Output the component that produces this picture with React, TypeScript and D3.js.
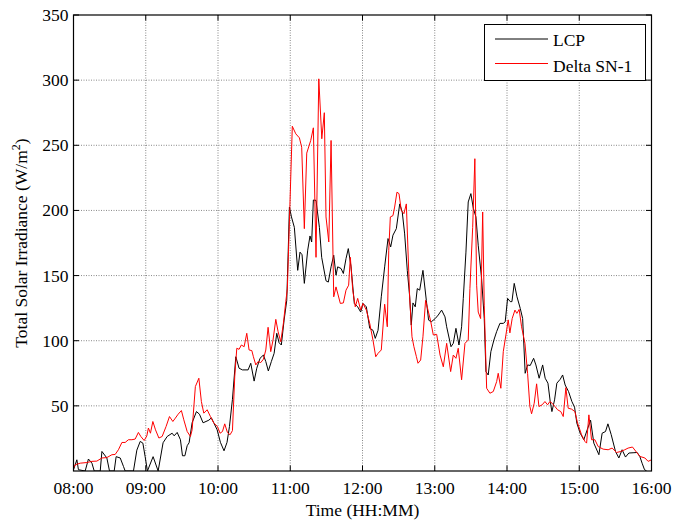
import React from "react";
import * as d3 from "d3";

// minutes after 08:00
const lcpTime = [0, 2.8, 4.1, 9.7, 12.4, 15.3, 17.2, 22.2, 23.6, 27.7, 29.9, 33.8, 35.4, 38.8, 41.5, 42.9, 49.8, 52.6, 55.4, 57.6, 59.5, 61.4, 66.1, 70.3, 74.4, 77.8, 81.9, 83.6, 86.1, 88.8, 90.5, 92.5, 94.4, 96, 98.5, 102.1, 104.6, 107.6, 112.4, 114.5, 119.3, 122, 125, 127.5, 129.5, 132, 134.8, 137.5, 140.3, 145, 147.2, 150, 152.2, 154.9, 157.7, 159.7, 161.8, 164.3, 166.6, 168.8, 170.7, 172.6, 174.9, 177.1, 178.2, 179.3, 181, 183.4, 186.2, 188.1, 189.8, 191.7, 194.5, 196.4, 197.8, 199.2, 201.4, 204.2, 206.1, 209.7, 211.6, 213.9, 216.1, 218, 219.4, 222.2, 224.1, 226.3, 228.2, 230.5, 233.2, 236, 238.5, 240.4, 243.2, 246, 248.7, 250.6, 252.9, 255.6, 258.4, 261.2, 263.4, 265.3, 268.1, 270.9, 273, 275, 277.2, 279.2, 280.5, 281.9, 283.8, 285.5, 287.5, 290.2, 293, 294.9, 297.1, 300.4, 302.9, 305.7, 308.5, 309.9, 313.5, 315.4, 317.6, 320.1, 322.3, 323.7, 325.9, 327.8, 330, 332, 334.2, 336.1, 338.9, 341.1, 342.5, 344.4, 346.6, 349.1, 351.4, 354.1, 356.9, 358.5, 360.5, 362.7, 364.1, 366, 368.3, 371, 373, 375.1, 377.1, 379.3, 382.1, 384, 386.7, 389.6, 391.7, 394, 395.9, 397.3, 399.5, 401.4, 404.2, 406.2, 408.3, 411.1, 413.9, 416.1, 418, 420.8, 423.8, 426.6, 429.4, 432.1, 436.3, 439, 441.8, 443.8, 446.5, 450.1, 452.9, 455.6, 458.4, 461.2, 464.7, 468.1, 470.3, 472.2, 474.2, 476];
const lcpValue = [1, 8.6, 1, 0, 9.2, 6, 0, 0, 15, 10, 0, 0, 11, 10, 3.5, 0, 0, 16, 22.7, 21.4, 11, 0, 11, 0, 21.7, 26.5, 29, 27, 29.6, 24, 11.7, 11.7, 19.4, 21.7, 37, 45.6, 43.6, 37, 39, 40.8, 31.6, 22, 15.5, 22, 34, 55, 87.7, 78.9, 77.6, 77.6, 82.7, 69, 78.9, 86.5, 89, 84, 76.8, 84, 90.3, 105.7, 98.5, 96.7, 115.8, 131, 165, 202.6, 195, 187, 154, 168, 166, 144, 169.5, 180.4, 175.8, 208, 207.7, 187, 164, 146, 145, 156.7, 165.6, 150.3, 156.7, 155.4, 151.6, 163, 170.7, 156.7, 128.6, 126, 122, 128.6, 126, 109.5, 108, 101.8, 108, 133.7, 156.7, 178.4, 172, 181, 186, 205, 198.8, 182, 154, 133.7, 112, 129, 126, 140, 138.8, 154, 131, 115.8, 114.5, 117, 119.7, 123.5, 118.3, 110.7, 95.4, 98, 109.5, 96.7, 110.7, 132.5, 168, 206.5, 212.9, 201.7, 195, 173.3, 147.8, 117, 76.3, 73.7, 91.6, 100.5, 107, 113.3, 113.3, 114.5, 132.5, 130, 130, 144, 133.7, 124.8, 117, 75, 81.4, 81, 86.5, 81.4, 71.2, 81.4, 71.2, 67.4, 53.3, 45.6, 54.6, 67.4, 70.4, 73.7, 66, 61, 53.3, 49, 36.8, 29, 24, 31.6, 39, 21.4, 12.5, 29, 30.3, 36.2, 28, 15, 10, 16.3, 10.7, 13.8, 14, 14.2, 11.2, 6, 1, 0];

const snTime = [0, 1.4, 5.6, 11.1, 15.3, 19.4, 23.6, 27.7, 31.9, 34.6, 37.3, 40.2, 42.9, 45.6, 48.5, 51.2, 53.9, 55.9, 58.7, 60.9, 62.2, 63.9, 65.9, 68.1, 70.9, 73.6, 76.9, 79.7, 82.5, 84.6, 86.9, 89.6, 91.6, 94.4, 97.1, 98.5, 101.2, 104.1, 106.2, 108.2, 111, 113.7, 116.5, 119.5, 121.7, 123.7, 125.6, 127.8, 130, 132, 133.9, 135.6, 137.5, 139.4, 141.7, 143.9, 145.8, 148.1, 149.4, 151.4, 153.3, 155.5, 157.7, 159.7, 161.6, 163.8, 165.7, 168, 169.9, 172.1, 174.3, 176.3, 177.6, 178.4, 181.7, 184.6, 187.6, 189.5, 191.7, 193.7, 197, 199.2, 201.4, 203.7, 206.2, 208.3, 209.7, 212, 213.9, 216.1, 218, 221.6, 224.1, 226.3, 228.5, 229.9, 231.9, 234, 236, 238.5, 240.4, 243.2, 246, 248.7, 251, 252.9, 255.6, 258.4, 260.6, 261.8, 263.1, 265.3, 266.7, 268.6, 270.3, 272.2, 274.4, 276.4, 279.2, 281.1, 282.7, 284.7, 286.1, 288.3, 290.2, 292.4, 294.4, 296.6, 298.8, 301.6, 304.4, 307.1, 309.9, 313.2, 315.4, 317.6, 319.5, 322.3, 325.1, 327.8, 329.2, 331.5, 333.3, 334.8, 336.1, 338.1, 339.8, 341.1, 343.1, 345.8, 348.6, 351.4, 352.7, 354.9, 356.9, 359.1, 361, 362.4, 364.3, 366.6, 368.2, 370.1, 372.1, 374.9, 377.1, 379, 380.4, 382.6, 384.6, 386.5, 389.2, 391.5, 393.7, 395.6, 397.5, 399.8, 402, 404.7, 406.7, 408.9, 410.8, 413.6, 416.4, 418.6, 421.9, 424.7, 426.1, 428, 430.2, 433, 435.7, 439.8, 444, 447.3, 451, 454.5, 457.8, 460.6, 464.2, 467.5, 470.3, 474.5, 477.2, 480];
const snValue = [2.3, 4.8, 6, 6.5, 7.4, 7.6, 10, 10.3, 12.5, 12.7, 16.3, 21.9, 21.9, 24, 24, 24.5, 29.6, 26.5, 23.4, 27, 33, 29, 38, 31.6, 25.3, 26.5, 34.2, 41.8, 38, 40.6, 43.6, 46.4, 39.3, 30.3, 26.5, 31.6, 64.8, 71.2, 53.3, 44.4, 47, 41.8, 36.8, 34.2, 29, 30.3, 36.2, 29.6, 27.8, 31, 72.4, 94.2, 93.4, 96.7, 95.4, 105.7, 92.9, 92.4, 87.7, 81.4, 84, 83.2, 85.8, 92.9, 110.3, 91.6, 100.5, 116.4, 107, 99.2, 113.3, 130, 140, 164, 264.6, 258.8, 255.7, 248.5, 186, 244, 253.7, 263.4, 164, 301, 255, 275, 195, 175.8, 253.7, 133.7, 141.3, 128.6, 129, 138.8, 142.6, 164, 138.8, 126, 132.5, 123.5, 128.6, 123.5, 113.3, 100.5, 87.7, 90.3, 92.9, 128, 110.7, 169.4, 195, 196, 202.6, 214, 212.9, 200, 197.5, 205, 132.5, 103, 95.4, 88, 82.7, 85.2, 103, 131, 123.5, 115, 104.4, 104.9, 89, 80, 98, 76.3, 89, 86.5, 94.2, 70, 98, 100.5, 140, 187, 239.7, 142.6, 122, 117, 198.8, 127.3, 63.5, 59.7, 61, 68.6, 75, 63.5, 91.6, 104.4, 116, 106, 117, 123.5, 121, 124, 110.7, 98, 75, 49.5, 43.9, 52, 66.9, 49.5, 50.8, 53.3, 50.8, 53.3, 52, 49.5, 47, 45.6, 41.8, 64, 48.2, 47.5, 45.6, 36.8, 27.8, 22.7, 21.4, 43.1, 24, 24, 18.8, 16.8, 16.3, 17.6, 14.2, 15, 16.3, 17.6, 18.4, 14.5, 11.2, 10, 7.4, 8.6];

const xTickMinutes = [0, 60, 120, 180, 240, 300, 360, 420, 480];
const xTickLabels = ["08:00", "09:00", "10:00", "11:00", "12:00", "13:00", "14:00", "15:00", "16:00"];
const yTicks = [50, 100, 150, 200, 250, 300, 350];
const seriesNames = ["LCP", "Delta SN-1"];
const seriesColors = ["#000000", "#ff0000"];

const W = 675, H = 523;
const L = 73.5, R = 651.5, T = 15, B = 471;
const FONT = "'Liberation Serif', 'Times New Roman', serif";

export default function App() {
  const x = d3.scaleLinear().domain([0, 480]).range([L, R]);
  const y = d3.scaleLinear().domain([0, 350]).range([B, T]);
  const line = d3.line<[number, number]>().x(d => x(d[0])).y(d => y(d[1]));
  const lcp = lcpTime.map((t, i) => [t, lcpValue[i]] as [number, number]);
  const sn = snTime.map((t, i) => [t, snValue[i]] as [number, number]);
  const tl = 5.5;
  return (
    <svg width={W} height={H} style={{ position: "absolute", left: 0, top: 0, background: "#fff" }} fontFamily={FONT}>
      <defs>
        <clipPath id="plot"><rect x={L} y={T} width={R - L} height={B - T} /></clipPath>
      </defs>
      <rect x={0} y={0} width={W} height={H} fill="#fff" />
      {/* grid */}
      {xTickMinutes.slice(1, -1).map(m => (
        <line key={"gx" + m} x1={x(m)} x2={x(m)} y1={T} y2={B} stroke="#555" strokeWidth={0.7} strokeDasharray="1,1.5" />
      ))}
      {yTicks.slice(0, -1).map(v => (
        <line key={"gy" + v} x1={L} x2={R} y1={y(v)} y2={y(v)} stroke="#555" strokeWidth={0.7} strokeDasharray="1,1.5" />
      ))}
      {/* series */}
      <g clipPath="url(#plot)" fill="none" strokeWidth={1} strokeLinejoin="round">
        <path d={line(lcp) || ""} stroke={seriesColors[0]} />
        <path d={line(sn) || ""} stroke={seriesColors[1]} />
      </g>
      {/* ticks */}
      {xTickMinutes.map(m => (
        <g key={"tx" + m} stroke="#000" strokeWidth={1}>
          <line x1={x(m)} x2={x(m)} y1={B} y2={B - tl} />
          <line x1={x(m)} x2={x(m)} y1={T} y2={T + tl} />
        </g>
      ))}
      {yTicks.map(v => (
        <g key={"ty" + v} stroke="#000" strokeWidth={1}>
          <line x1={L} x2={L + tl} y1={y(v)} y2={y(v)} />
          <line x1={R} x2={R - tl} y1={y(v)} y2={y(v)} />
        </g>
      ))}
      <rect x={L} y={T} width={R - L} height={B - T} fill="none" stroke="#000" strokeWidth={1.2} />
      {/* tick labels */}
      {xTickMinutes.map((m, i) => (
        <text key={"lx" + m} x={x(m)} y={493.5} textAnchor="middle" fontSize={17.5} fill="#000">{xTickLabels[i]}</text>
      ))}
      {yTicks.map(v => (
        <text key={"ly" + v} x={68.5} y={y(v)} dy="0.34em" textAnchor="end" fontSize={17.5} fill="#000">{v}</text>
      ))}
      {/* axis labels */}
      <text x={(L + R) / 2} y={516} textAnchor="middle" fontSize={17.5} fill="#000">Time (HH:MM)</text>
      <text transform={`translate(27,${(T + B) / 2}) rotate(-90)`} textAnchor="middle" fontSize={17.5} fill="#000">
        Total Solar Irradiance (W/m<tspan dy="-7" fontSize={12}>2</tspan><tspan dy="7">)</tspan>
      </text>
      {/* legend */}
      <rect x={484.5} y={24.5} width={161} height={56} fill="#fff" stroke="#000" strokeWidth={1} />
      <line x1={495} x2={548} y1={39} y2={39} stroke={seriesColors[0]} strokeWidth={1} />
      <text x={553} y={46} fontSize={17.5} fill="#000">{seriesNames[0]}</text>
      <line x1={495} x2={548} y1={63.5} y2={63.5} stroke={seriesColors[1]} strokeWidth={1} />
      <text x={553} y={72} fontSize={17.5} fill="#000">{seriesNames[1]}</text>
    </svg>
  );
}
